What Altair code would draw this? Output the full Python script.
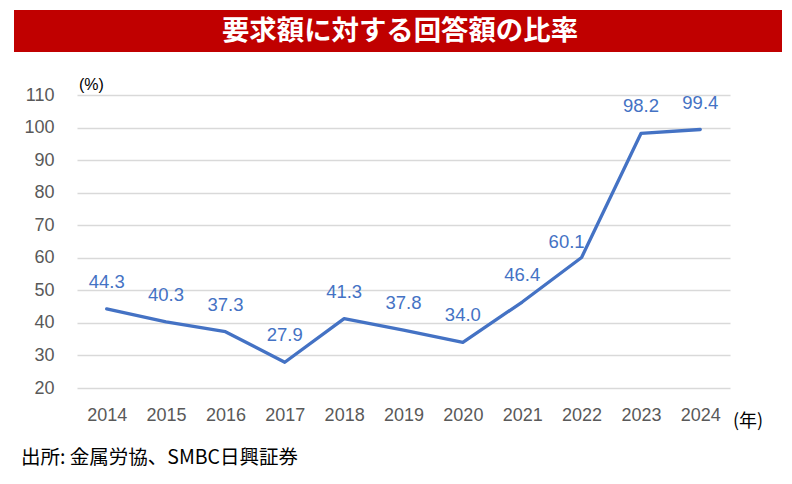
import altair as alt
import pandas as pd

years = ["2014", "2015", "2016", "2017", "2018", "2019", "2020", "2021", "2022", "2023", "2024"]
ratios = [44.3, 40.3, 37.3, 27.9, 41.3, 37.8, 34.0, 46.4, 60.1, 98.2, 99.4]
y_ticks = [20, 30, 40, 50, 60, 70, 80, 90, 100, 110]

title_text = "要求額に対する回答額の比率"
unit_y = "(%)"
unit_x = "(年)"
source_text = "出所: 金属労協、SMBC日興証券"

BLUE = "#4472C4"
LABEL_FONT = "Liberation Sans"
CJK_FONT = "Noto Sans CJK JP"

df = pd.DataFrame({"year": years, "value": ratios})
df["label"] = [f"{v:.1f}" for v in ratios]

base = alt.Chart(df)

x_enc = alt.X(
    "year:O",
    sort=years,
    title=None,
    scale=alt.Scale(paddingInner=0, paddingOuter=0),
    axis=alt.Axis(labelAngle=0, domain=False, ticks=False, grid=False, labelPadding=18,
                  labelFontSize=18, labelColor="#595959", labelFont=LABEL_FONT),
)
y_enc = alt.Y(
    "value:Q",
    title=None,
    scale=alt.Scale(domain=[20, 110], nice=False, zero=False),
    axis=alt.Axis(values=y_ticks, domain=False, ticks=False, labelPadding=23,
                  labelOverlap=False, labelFontSize=18, labelColor="#595959",
                  labelFont=LABEL_FONT, grid=True, gridColor="#d9d9d9", gridWidth=1.5),
)

line = base.mark_line(color=BLUE, strokeWidth=3.3, strokeJoin="round", strokeCap="round").encode(
    x=x_enc, y=y_enc
)

labels = base.transform_filter(alt.datum.year != "2022").mark_text(
    color=BLUE, fontSize=18.5, font=LABEL_FONT, dy=-27, baseline="middle", align="center"
).encode(x=x_enc, y=y_enc, text="label:N")

label_2022 = base.transform_filter(alt.datum.year == "2022").mark_text(
    color=BLUE, fontSize=18.5, font=LABEL_FONT, dy=-15, dx=-15, baseline="middle", align="center"
).encode(x=x_enc, y=y_enc, text="label:N")

banner = alt.Chart(pd.DataFrame({"t": [title_text]})).mark_rect(color="#C00000").encode(
    x=alt.value(-63), x2=alt.value(705), y=alt.value(-85), y2=alt.value(-43)
)
title = alt.Chart(pd.DataFrame({"t": [title_text]})).mark_text(
    color="white", fontSize=27.4, fontWeight="bold", font=CJK_FONT, align="center", baseline="middle"
).encode(text="t:N", x=alt.value(323), y=alt.value(-63))

unit_y_mark = alt.Chart(pd.DataFrame({"t": [unit_y]})).mark_text(
    color="#000000", fontSize=16, font=LABEL_FONT, align="left", baseline="middle"
).encode(text="t:N", x=alt.value(2), y=alt.value(-10))

unit_x_mark = alt.Chart(pd.DataFrame({"t": [unit_x]})).mark_text(
    color="#000000", fontSize=18, font=CJK_FONT, align="left", baseline="middle"
).encode(text="t:N", x=alt.value(656), y=alt.value(327))

source_mark = alt.Chart(pd.DataFrame({"t": [source_text]})).mark_text(
    color="#000000", fontSize=19.5, font=CJK_FONT, align="left", baseline="middle"
).encode(text="t:N", x=alt.value(-56), y=alt.value(363))

chart = alt.layer(
    line, labels, label_2022, banner, title, unit_y_mark, unit_x_mark, source_mark
).properties(
    width=653,
    height=293,
    background="white",
    autosize=alt.AutoSizeParams(type="none"),
    padding={"left": 69, "top": 87, "right": 54, "bottom": 88},
).configure_view(stroke="transparent", strokeWidth=0)

chart.save("out.html", embed_options={"renderer": "svg", "actions": False})
